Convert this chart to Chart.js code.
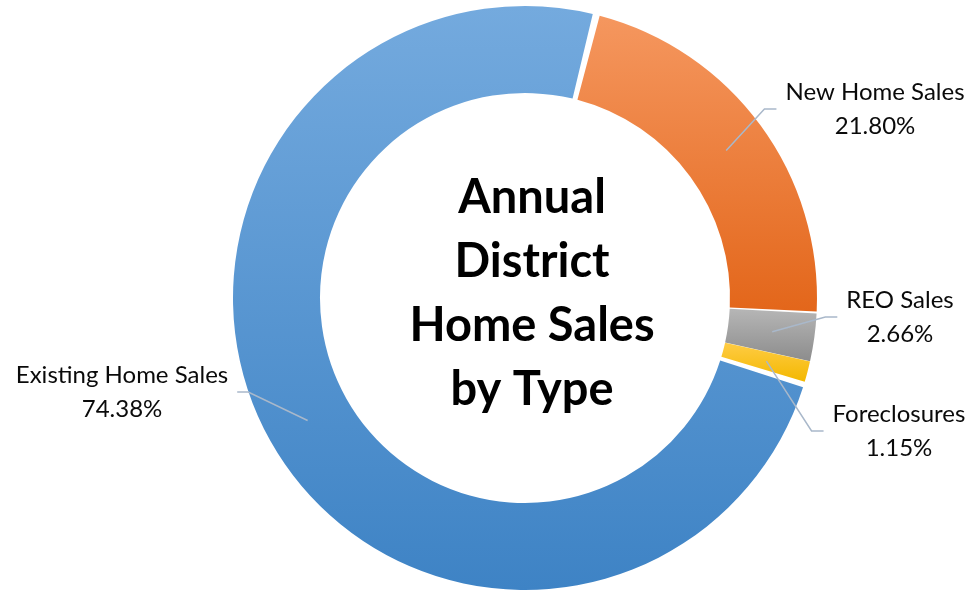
<!DOCTYPE html>
<html><head><meta charset="utf-8">
<script src="https://cdn.jsdelivr.net/npm/chart.js@4"></script>
<style>html,body{margin:0;padding:0;background:#fff;}#wrap{width:970px;height:590px;position:relative;}</style>
</head><body><div id="wrap"><canvas id="c" width="970" height="590"></canvas></div>
<script>
// ---- data ----
const categories = ['New Home Sales', 'REO Sales', 'Foreclosures', 'Existing Home Sales'];
const shares = [21.80, 2.66, 1.15, 74.38];
const titleLines = ['Annual', 'District', 'Home Sales', 'by Type'];

// ---- style ----
const gradientStops = [
  ['#f5975f', '#e3661a'],
  ['#b6b6b6', '#8c8c8c'],
  ['#ffcc45', '#f3b800'],
  ['#74aade', '#3e83c5']
];
// label block placement: centre x, middle y, side of chart
const labelPlacement = [[875, 109, 'right'], [900, 317, 'right'], [899, 431, 'right'], [122, 392, 'left']];
const ROTATION = 14.5;
const LABEL_FONT = '24px Lato';
const TITLE_FONT = 'bold 47px Lato';

function sliceGradient(context) {
  const chart = context.chart;
  const area = chart.chartArea;
  const i = context.dataIndex;
  if (!area || i === undefined) return gradientStops[i || 0][0];
  const cx = (area.left + area.right) / 2, cy = (area.top + area.bottom) / 2;
  const ro = Math.min(area.width, area.height) / 2, ri = ro * 0.7;
  const total = shares.reduce((a, b) => a + b, 0);
  let cum = 0;
  for (let k = 0; k < i; k++) cum += shares[k];
  const s = ROTATION + cum / total * 360, e = s + shares[i] / total * 360;
  let ymin = Infinity, ymax = -Infinity;
  for (let d = s; d <= e + 0.001; d += Math.max((e - s) / 60, 0.05)) {
    const a = (d - 90) * Math.PI / 180;
    for (const r of [ro, ri]) { const y = cy + r * Math.sin(a); ymin = Math.min(ymin, y); ymax = Math.max(ymax, y); }
  }
  const g = chart.ctx.createLinearGradient(0, ymin, 0, ymax);
  g.addColorStop(0, gradientStops[i][0]);
  g.addColorStop(1, gradientStops[i][1]);
  return g;
}

const labelPlugin = {
  id: 'labels',
  afterDatasetsDraw(chart) {
    const ctx = chart.ctx;
    const meta = chart.getDatasetMeta(0);
    ctx.save();
    // centre title
    ctx.fillStyle = '#000';
    ctx.font = TITLE_FONT;
    ctx.textAlign = 'center';
    ctx.textBaseline = 'alphabetic';
    titleLines.forEach((t, k) => ctx.fillText(t, 532, 213 + k * 64));
    // data labels
    ctx.font = LABEL_FONT;
    meta.data.forEach((arc, i) => {
      const p = arc.getProps(['x', 'y', 'startAngle', 'endAngle', 'innerRadius', 'outerRadius'], true);
      const mid = (p.startAngle + p.endAngle) / 2;
      const rr = (p.innerRadius + p.outerRadius) / 2 + 3;
      const ax = p.x + Math.cos(mid) * rr, ay = p.y + Math.sin(mid) * rr;
      const [lx, ly, side] = labelPlacement[i];
      const l1 = categories[i], l2 = shares[i].toFixed(2) + '%';
      const w = Math.max(ctx.measureText(l1).width, ctx.measureText(l2).width);
      let ex, bx;
      if (side === 'right') { ex = lx - w / 2 - 9; bx = ex - 12; }
      else { ex = lx + w / 2 + 9; bx = ex + 11; }
      ctx.strokeStyle = '#a9b8ca';
      ctx.lineWidth = 1.5;
      ctx.beginPath();
      ctx.moveTo(ax, ay); ctx.lineTo(bx, ly); ctx.lineTo(ex, ly);
      ctx.stroke();
      ctx.fillStyle = '#0a0a0a';
      ctx.textAlign = 'center';
      ctx.textBaseline = 'middle';
      ctx.fillText(l1, lx, ly - 16.5);
      ctx.fillText(l2, lx, ly + 17);
    });
    ctx.restore();
  }
};

new Chart(document.getElementById('c'), {
  type: 'doughnut',
  data: {
    labels: categories,
    datasets: [{
      data: shares,
      backgroundColor: sliceGradient,
      borderWidth: 0,
      spacing: 4
    }]
  },
  options: {
    responsive: false,
    animation: false,
    rotation: ROTATION,
    cutout: '70%',
    layout: { padding: { left: 80, right: 0, top: 6, bottom: 0 } },
    plugins: { legend: { display: false }, tooltip: { enabled: false } }
  },
  plugins: [labelPlugin]
});
</script>
</body></html>
